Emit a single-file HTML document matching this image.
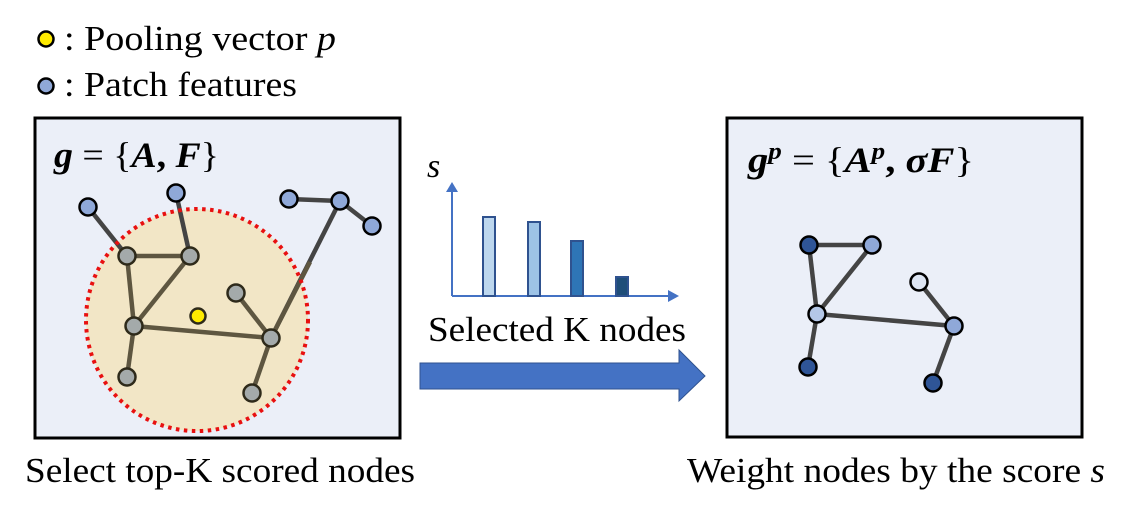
<!DOCTYPE html>
<html><head><meta charset="utf-8"><style>body{margin:0;background:#fff}svg{display:block}</style></head>
<body>
<svg width="1125" height="515" viewBox="0 0 1125 515" xmlns="http://www.w3.org/2000/svg" font-family="Liberation Serif, serif">
<!-- legend -->
<circle cx="46" cy="39" r="7.5" fill="#ffeb00" stroke="#000" stroke-width="2.5"/>
<text x="64" y="50" font-size="35" textLength="272" lengthAdjust="spacingAndGlyphs">: Pooling vector <tspan font-style="italic">p</tspan></text>
<circle cx="46" cy="86" r="7.5" fill="#8fa8d8" stroke="#000" stroke-width="2.5"/>
<text x="64" y="96" font-size="35" textLength="233" lengthAdjust="spacingAndGlyphs">: Patch features</text>

<!-- left box -->
<rect x="35" y="118" width="365" height="320" fill="#ebeff8" stroke="#000" stroke-width="3"/>
<text x="54" y="167" font-size="36" font-weight="bold" font-style="italic" textLength="165" lengthAdjust="spacingAndGlyphs">g <tspan font-style="normal" font-weight="normal">= {</tspan>A<tspan font-style="normal">,</tspan> F<tspan font-style="normal" font-weight="normal">}</tspan></text>
<circle cx="197" cy="320" r="111" fill="#f2e6c6"/>
<g stroke="#444" stroke-width="4.5">
<line x1="88" y1="207" x2="127" y2="256"/>
<line x1="176" y1="193" x2="190" y2="256"/>
<line x1="289" y1="199" x2="340" y2="201"/>
<line x1="340" y1="201" x2="372" y2="226"/>
<line x1="340" y1="201" x2="271" y2="338"/>
</g>
<g stroke="#5e5640" stroke-width="4.5">
<line x1="127" y1="256" x2="190" y2="256"/>
<line x1="127" y1="256" x2="134" y2="326"/>
<line x1="190" y1="256" x2="134" y2="326"/>
<line x1="134" y1="326" x2="271" y2="338"/>
<line x1="134" y1="326" x2="127" y2="377"/>
<line x1="236" y1="293" x2="271" y2="338"/>
<line x1="271" y1="338" x2="252" y2="393"/>
<line x1="121" y1="249" x2="127" y2="256"/>
<line x1="310" y1="262" x2="271" y2="338"/>
</g>
<circle cx="197" cy="320" r="111" fill="none" stroke="#e81010" stroke-width="4" stroke-dasharray="3.5 4.5"/>
<g fill="#8fa8d8" stroke="#000" stroke-width="2.5">
<circle cx="88" cy="207" r="8.5"/><circle cx="176" cy="193" r="8.5"/><circle cx="289" cy="199" r="8.5"/><circle cx="340" cy="201" r="8.5"/><circle cx="372" cy="226" r="8.5"/>
</g>
<g fill="#a4aaaa" stroke="#2e2a1a" stroke-width="2.5">
<circle cx="127" cy="256" r="8.5"/><circle cx="190" cy="256" r="8.5"/><circle cx="236" cy="293" r="8.5"/><circle cx="134" cy="326" r="8.5"/><circle cx="271" cy="338" r="8.5"/><circle cx="127" cy="377" r="8.5"/><circle cx="252" cy="393" r="8.5"/>
</g>
<circle cx="198" cy="316" r="7.5" fill="#ffeb00" stroke="#2e2a1a" stroke-width="2.5"/>

<!-- chart -->
<text x="427" y="177" font-size="34" font-style="italic">s</text>
<g stroke="#4472c4" stroke-width="2" fill="#4472c4">
<line x1="452" y1="296" x2="452" y2="190"/><polygon points="446,192 458,192 452,182" stroke="none"/>
<line x1="452" y1="296" x2="670" y2="296"/><polygon points="668,290 668,302 679,296" stroke="none"/>
</g>
<g stroke="#2f528f" stroke-width="2">
<rect x="483" y="217" width="12" height="79" fill="#bdd7ee"/>
<rect x="528" y="222" width="12" height="74" fill="#9dc3e6"/>
<rect x="571" y="241" width="12" height="55" fill="#2e75b6"/>
<rect x="616" y="277" width="12" height="19" fill="#1f4e79"/>
</g>
<text x="428" y="341" font-size="35" textLength="258" lengthAdjust="spacingAndGlyphs">Selected K nodes</text>
<polygon points="420,363 679,363 679,350 705,376 679,401 679,389 420,389" fill="#4472c4" stroke="#2f528f" stroke-width="1"/>

<!-- right box -->
<rect x="727" y="118" width="355" height="319" fill="#ebeff8" stroke="#000" stroke-width="3"/>
<text x="748" y="172" font-size="36" font-weight="bold" font-style="italic" textLength="226" lengthAdjust="spacingAndGlyphs">g<tspan font-size="24" dy="-13">p</tspan><tspan dy="13" font-style="normal" font-weight="normal"> = {</tspan>A<tspan font-size="24" dy="-13">p</tspan><tspan dy="13" font-style="normal">,</tspan> σF<tspan font-style="normal" font-weight="normal">}</tspan></text>
<g stroke="#444" stroke-width="4.5">
<line x1="809" y1="245" x2="872" y2="245"/>
<line x1="809" y1="245" x2="817" y2="314"/>
<line x1="872" y1="245" x2="817" y2="314"/>
<line x1="817" y1="314" x2="954" y2="326"/>
<line x1="817" y1="314" x2="808" y2="367"/>
<line x1="919" y1="282" x2="954" y2="326"/>
<line x1="954" y1="326" x2="933" y2="383"/>
</g>
<g stroke="#000" stroke-width="2.5">
<circle cx="809" cy="245" r="8.5" fill="#2f5597"/>
<circle cx="872" cy="245" r="8.5" fill="#8fa8d8"/>
<circle cx="919" cy="282" r="8.5" fill="#dde5f3"/>
<circle cx="817" cy="314" r="8.5" fill="#b4c7e7"/>
<circle cx="954" cy="326" r="8.5" fill="#8fa8d8"/>
<circle cx="808" cy="367" r="8.5" fill="#2f5597"/>
<circle cx="933" cy="383" r="8.5" fill="#2f5597"/>
</g>

<!-- captions -->
<text x="25" y="482" font-size="35" textLength="390" lengthAdjust="spacingAndGlyphs">Select top-K scored nodes</text>
<text x="687" y="482" font-size="35" textLength="418" lengthAdjust="spacingAndGlyphs">Weight nodes by the score <tspan font-style="italic">s</tspan></text>
</svg>
</body></html>
